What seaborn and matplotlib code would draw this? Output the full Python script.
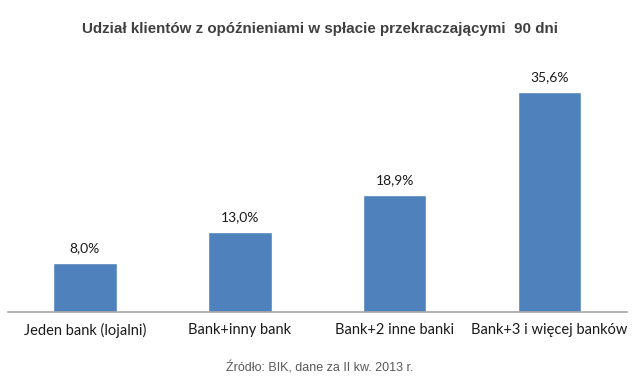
import matplotlib
matplotlib.use("Agg")
import matplotlib.pyplot as plt
import seaborn as sns
import pandas as pd

categories = ["Jeden bank (lojalni)", "Bank+inny bank", "Bank+2 inne banki", "Bank+3 i więcej banków"]
values = [8.0, 13.0, 18.9, 35.6]
value_labels = ["8,0%", "13,0%", "18,9%", "35,6%"]

title = "Udział klientów z opóźnieniami w spłacie przekraczającymi  90 dni"
source = "Źródło: BIK, dane za II kw. 2013 r."

sns.set_style("white")
df = pd.DataFrame({"cat": categories, "val": values})

fig = plt.figure(figsize=(6.4, 3.91), dpi=100)
ax = fig.add_axes([7.5/640, 1 - 312/391, (627-7.5)/640, (312-65)/391])
sns.barplot(data=df, x="cat", y="val", color="#4F81BD", width=0.41, saturation=1, ax=ax)
ax.set_ylim(0, 40)
ax.set_xlim(-0.5, 3.5)
ax.set_xlabel("")
ax.set_ylabel("")
ax.set_yticks([])
for s in ["top", "right", "left"]:
    ax.spines[s].set_visible(False)
ax.spines["bottom"].set_color("#A6A6A6")
ax.spines["bottom"].set_linewidth(1.2)
ax.tick_params(axis="x", length=0, pad=8, labelsize=10.5, labelcolor="#1a1a1a")
for lab in ax.get_xticklabels():
    lab.set_fontfamily("Lato")
for i, (v, t) in enumerate(zip(values, value_labels)):
    ax.text(i, v + 1.4, t, ha="center", va="bottom", fontsize=10, family="Lato", color="#1a1a1a")

fig.text(0.5, 1 - 29/391, title, ha="center", va="center", fontsize=10.9,
         fontweight="bold", family="Liberation Sans", color="#404040")
fig.text(0.5, 1 - 368/391, source, ha="center", va="center", fontsize=9,
         family="Liberation Sans", color="#595959")

fig.savefig("out.png", dpi=100)
